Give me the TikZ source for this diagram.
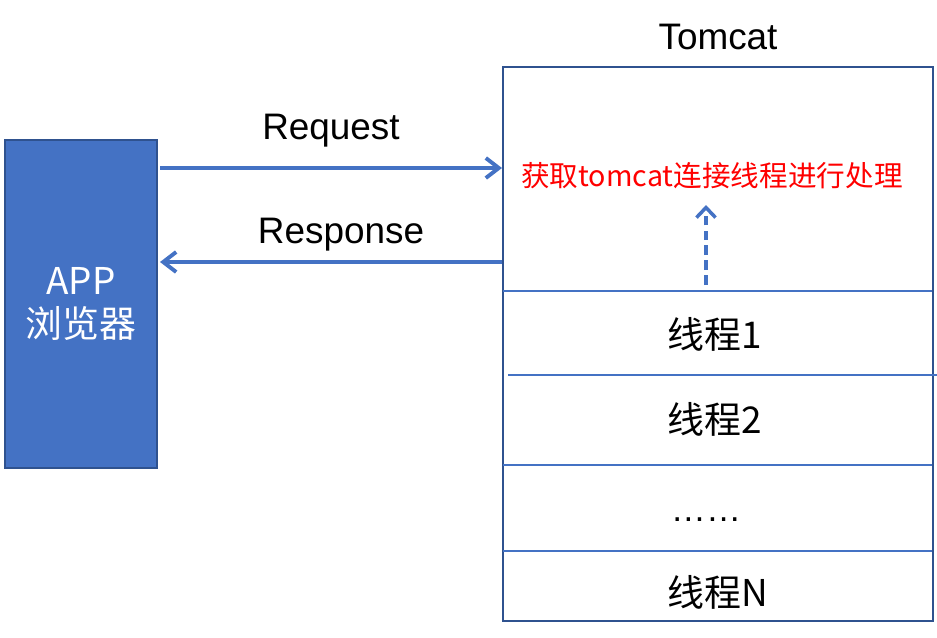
\documentclass[tikz,border=0pt]{standalone}
\usepackage{fontspec}
\setmainfont{Liberation Sans}
\newfontfamily\cjk{Noto Sans CJK SC}
\usepackage{xcolor}
\usetikzlibrary{arrows.meta, positioning, calc}
\definecolor{boxblue}{HTML}{4472C4}
\definecolor{edgeblue}{HTML}{2F528F}

\begin{document}
\begin{tikzpicture}[x=0.02cm, y=-0.02cm,
    flow/.style={draw=boxblue, line width=2.2pt, -{Straight Barb[length=2.6mm, width=4mm]}},
    pickflow/.style={draw=boxblue, line width=2pt, dash pattern=on 5.5pt off 3pt, -{Straight Barb[length=2mm, width=3.8mm]}},
    sepline/.style={draw=boxblue, line width=0.7pt},
    rowtext/.style={font=\cjk\fontsize{21}{25}\selectfont},
    bigtext/.style={font=\fontsize{21}{25}\selectfont}
]
    \useasboundingbox (0,0) rectangle (937,637);

    % Define the points
    \coordinate (reqL) at (160,168);
    \coordinate (resL) at (160,262);
    \coordinate (pick) at (706,285);
    \coordinate (got) at (706,205);

    % The browser and the container
    \node[draw=edgeblue, fill=boxblue, line width=1.2pt, minimum width=3.04cm, minimum height=6.56cm,
          text=white, align=center, font=\cjk\fontsize{21}{24}\selectfont] (app) at (81,304) {APP\\浏览器};
    \node[draw=edgeblue, line width=1.2pt, minimum width=8.6cm, minimum height=11.08cm, inner sep=0pt] (tomcat) at (718,344) {};
    \node[bigtext] (title) at (718,37) {Tomcat};

    % Request and response
    \draw[flow] (reqL) -- node[midway, above=0.26cm, bigtext] (req) {Request} (tomcat.west |- reqL);
    \draw[flow] (tomcat.west |- resL) -- node[midway, above=0.06cm, bigtext, xshift=0.2cm] (res) {Response} (resL);

    % Work taken by a thread
    \node[red, font=\cjk\fontsize{16.3}{20}\selectfont] (task) at (712,176) {获取tomcat连接线程进行处理};
    \draw[pickflow] (pick) -- (got);

    % Thread rows
    \draw[sepline] (503,291) -- (932,291);
    \draw[sepline] (508,375) -- (937,375);
    \draw[sepline] (503,465) -- (932,465);
    \draw[sepline] (503,551) -- (932,551);

    \node[rowtext] (t1) at (715,334) {线程1};
    \node[rowtext] (t2) at (715,419) {线程2};
    \node[font=\fontsize{20}{24}\selectfont] (tdots) at (706,520) {……};
    \node[rowtext] (tN) at (718,592) {线程N};
\end{tikzpicture}
\end{document}
